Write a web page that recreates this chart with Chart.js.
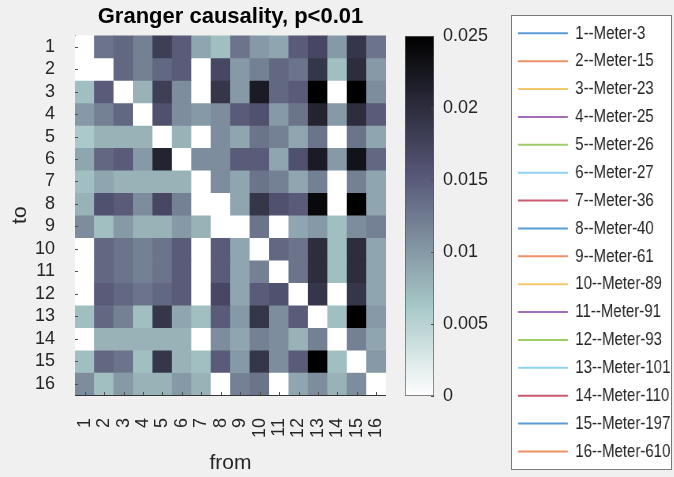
<!DOCTYPE html>
<html>
<head>
<meta charset="utf-8">
<script src="https://cdn.jsdelivr.net/npm/chart.js@4.4.1/dist/chart.umd.min.js"></script>
<style>
  html, body { margin: 0; padding: 0; background: #f0f0f0; }
  #wrap { position: relative; width: 674px; height: 477px; overflow: hidden; }
  #heat { position: absolute; left: 0; top: 0; }
  #cbar { position: absolute; left: 395px; top: 0; }
  #legBox { position: absolute; left: 511px; top: 15px; width: 161px; height: 455px; box-sizing: border-box; border: 1px solid #7a7a7a; background: #fff; }
  #leg { position: absolute; left: 511px; top: 15px; transform: scaleX(0.79); transform-origin: 0 0; }
</style>
</head>
<body>
<div id="wrap">
  <canvas id="heat" width="422" height="477"></canvas>
  <canvas id="cbar" width="115" height="477"></canvas>
  <div id="legBox"></div>
  <canvas id="leg" width="420" height="462"></canvas>
</div>
<script>
var fromLabels = ['1', '2', '3', '4', '5', '6', '7', '8', '9', '10', '11', '12', '13', '14', '15', '16'];
var toLabels = ['1', '2', '3', '4', '5', '6', '7', '8', '9', '10', '11', '12', '13', '14', '15', '16'];
var meterNames = ['1--Meter-3', '2--Meter-15', '3--Meter-23', '4--Meter-25', '5--Meter-26', '6--Meter-27',
    '7--Meter-36', '8--Meter-40', '9--Meter-61', '10--Meter-89', '11--Meter-91', '12--Meter-93',
    '13--Meter-101', '14--Meter-110', '15--Meter-197', '16--Meter-610'];
var cbRange = [0, 0.025];
var cbTicks = [0, 0.005, 0.01, 0.015, 0.02, 0.025];

// rows = "to", columns = "from"
var gc1 = [0, 0.013, 0.014, 0.012, 0.018, 0.015, 0.009, 0.007, 0.013, 0.010, 0.009, 0.015, 0.017, 0.010, 0.019, 0.013];
var gc2 = [0, 0, 0.014, 0.012, 0.014, 0.015, 0, 0.017, 0.010, 0.012, 0.014, 0.013, 0.019, 0.007, 0.020, 0.010];
var gc3 = [0.007, 0.015, 0, 0.008, 0.018, 0.011, 0, 0.019, 0.010, 0.022, 0.014, 0.015, 0.025, 0, 0.025, 0.011];
var gc4 = [0.010, 0.012, 0.014, 0, 0.016, 0.011, 0.010, 0.011, 0.015, 0.016, 0.010, 0.013, 0.021, 0.010, 0.020, 0.015];
var gc5 = [0.006, 0.008, 0.008, 0.008, 0, 0.008, 0, 0.011, 0.009, 0.013, 0.012, 0.009, 0.013, 0, 0.013, 0.009];
var gc6 = [0.009, 0.014, 0.015, 0.010, 0.021, 0, 0.011, 0.011, 0.015, 0.015, 0.009, 0.016, 0.022, 0.010, 0.023, 0.014];
var gc7 = [0.007, 0.009, 0.008, 0.008, 0.008, 0.008, 0, 0.011, 0.009, 0.013, 0.012, 0.009, 0.012, 0, 0.012, 0.009];
var gc8 = [0.008, 0.016, 0.015, 0.011, 0.017, 0.012, 0, 0, 0.009, 0.019, 0.016, 0.015, 0.024, 0, 0.025, 0.009];
var gc9 = [0.011, 0.007, 0.010, 0.008, 0.008, 0.010, 0.008, 0, 0, 0.013, 0, 0.009, 0.010, 0.007, 0.011, 0.012];
var gc10 = [0, 0.014, 0.013, 0.012, 0.013, 0.015, 0, 0.015, 0.009, 0, 0.014, 0.013, 0.020, 0.007, 0.020, 0.009];
var gc11 = [0, 0.014, 0.013, 0.012, 0.013, 0.015, 0, 0.015, 0.009, 0.012, 0, 0.013, 0.020, 0.007, 0.020, 0.009];
var gc12 = [0, 0.015, 0.014, 0.013, 0.014, 0.015, 0, 0.017, 0.009, 0.015, 0.016, 0, 0.019, 0, 0.019, 0.009];
var gc13 = [0.007, 0.014, 0.012, 0.007, 0.019, 0.009, 0.007, 0.015, 0.010, 0.019, 0.011, 0.015, 0, 0.007, 0.025, 0.010];
var gc14 = [0, 0.008, 0.008, 0.008, 0.008, 0.008, 0, 0.011, 0.009, 0.012, 0.011, 0.008, 0.012, 0, 0.012, 0.009];
var gc15 = [0.007, 0.014, 0.013, 0.007, 0.019, 0.008, 0.007, 0.015, 0.010, 0.019, 0.011, 0.015, 0.025, 0.007, 0, 0.010];
var gc16 = [0.011, 0.007, 0.010, 0.008, 0.008, 0.010, 0.008, 0, 0.012, 0.013, 0, 0.009, 0.011, 0.008, 0.011, 0];
var causality = [gc1, gc2, gc3, gc4, gc5, gc6, gc7, gc8, gc9, gc10, gc11, gc12, gc13, gc14, gc15, gc16];

var lineColors = ['#5b9bd5', '#ee9068', '#f3c76c', '#a46cbc', '#9dcc6b', '#8fd2f0', '#c9596f'];

var txt = '#262626';
var sans = '"Liberation Sans", Arial, sans-serif';

// flipped "bone" colormap: 0 -> white, max -> black
function boneColor(v) {
    var x = 1 - Math.min(1, Math.max(0, v / cbRange[1]));
    var hr = Math.min(1, x / 0.375);
    var hg = Math.min(1, Math.max(0, (x - 0.375) / 0.375));
    var hb = Math.min(1, Math.max(0, (x - 0.75) / 0.25));
    var r = Math.round(255 * (7 * x + hb) / 8);
    var g = Math.round(255 * (7 * x + hg) / 8);
    var b = Math.round(255 * (7 * x + hr) / 8);
    return 'rgb(' + r + ',' + g + ',' + b + ')';
}

// small tick marks drawn inside the plot, matlab style
var innerTicks = {
    id: 'innerTicks',
    afterDatasetsDraw: function (chart) {
        var ctx = chart.ctx;
        ctx.save();
        ctx.strokeStyle = '#4d4d4d';
        ctx.lineWidth = 1;
        Object.values(chart.scales).forEach(function (s) {
            if (!s.options.display) return;
            s.ticks.forEach(function (t, i) {
                var p = Math.round(s.getPixelForTick(i)) + 0.5;
                ctx.beginPath();
                if (s.isHorizontal()) {
                    ctx.moveTo(p, s.top); ctx.lineTo(p, s.top - 3);
                } else if (s.position === 'left') {
                    ctx.moveTo(s.right, p); ctx.lineTo(s.right + 3, p);
                } else {
                    ctx.moveTo(s.left, p); ctx.lineTo(s.left - 3, p);
                }
                ctx.stroke();
            });
        });
        ctx.restore();
    }
};

var heatSets = causality.map(function (row, r) {
    return {
        label: toLabels[r],
        data: row.map(function () { return 1; }),
        backgroundColor: row.map(boneColor),
        borderWidth: 0,
        barPercentage: 1,
        categoryPercentage: 1
    };
});

new Chart(document.getElementById('heat'), {
    type: 'bar',
    data: { labels: fromLabels, datasets: heatSets },
    options: {
        responsive: false,
        animation: false,
        layout: { padding: { left: 0, right: 15, top: 0, bottom: 0 } },
        plugins: {
            legend: { display: false },
            tooltip: { enabled: false },
            title: {
                display: true,
                fullSize: false,
                text: 'Granger causality, p<0.01',
                color: '#000',
                font: { family: sans, size: 22, weight: 'bold' },
                padding: { top: 4, bottom: 5 }
            }
        },
        scales: {
            x: {
                stacked: true,
                z: 1,
                grid: { display: false, drawTicks: false },
                border: { display: true, color: '#333', width: 1 },
                ticks: {
                    autoSkip: false, minRotation: 90, maxRotation: 90, padding: 23,
                    color: txt, font: { family: sans, size: 18 }
                },
                title: {
                    display: true, text: 'from', color: txt,
                    font: { family: sans, size: 21 }, padding: { top: 0, bottom: 1 }
                },
                afterFit: function (s) { s.height = 82; }
            },
            y: {
                type: 'linear',
                stacked: true,
                reverse: true,
                min: 0,
                max: toLabels.length,
                z: 1,
                grid: { display: false, drawTicks: false },
                border: { display: true, color: '#333', width: 1 },
                afterBuildTicks: function (s) {
                    s.ticks = toLabels.map(function (l, i) { return { value: i + 0.5 }; });
                },
                ticks: {
                    autoSkip: false, padding: 20, color: txt,
                    font: { family: sans, size: 18 },
                    callback: function (v) { return toLabels[Math.floor(v)]; }
                },
                title: {
                    display: true, text: 'to', color: txt,
                    font: { family: sans, size: 21 }, padding: { top: 8, bottom: 0 }
                },
                afterFit: function (s) { s.width = 75; }
            }
        }
    },
    plugins: [innerTicks]
});

new Chart(document.getElementById('cbar'), {
    type: 'bar',
    data: {
        labels: [''],
        datasets: [{
            data: [cbRange],
            backgroundColor: function (c) {
                var area = c.chart.chartArea;
                if (!area) return null;
                var g = c.chart.ctx.createLinearGradient(0, area.bottom, 0, area.top);
                for (var k = 0; k <= 40; k++) {
                    g.addColorStop(k / 40, boneColor(cbRange[0] + (cbRange[1] - cbRange[0]) * k / 40));
                }
                return g;
            },
            borderColor: '#5a5a5a',
            borderWidth: 1,
            borderSkipped: false,
            barPercentage: 1,
            categoryPercentage: 1
        }]
    },
    options: {
        responsive: false,
        animation: false,
        layout: { padding: { left: 10, top: 36, bottom: 81, right: 0 } },
        plugins: { legend: { display: false }, tooltip: { enabled: false } },
        scales: {
            x: { display: false },
            y: {
                position: 'right',
                min: cbRange[0],
                max: cbRange[1],
                grid: { display: false, drawTicks: false },
                border: { display: false },
                afterBuildTicks: function (s) {
                    s.ticks = cbTicks.map(function (v) { return { value: v }; });
                },
                ticks: {
                    padding: 9, color: txt, font: { family: sans, size: 18 },
                    callback: function (v) { return String(v); }
                },
                afterFit: function (s) { s.width = 76; }
            }
        }
    },
    plugins: [{
        id: 'cbTicks',
        afterDatasetsDraw: function (chart) {
            var s = chart.scales.y, ctx = chart.ctx, area = chart.chartArea;
            ctx.save();
            ctx.strokeStyle = '#4d4d4d';
            s.ticks.forEach(function (t, i) {
                var p = Math.round(s.getPixelForTick(i)) + 0.5;
                ctx.beginPath(); ctx.moveTo(area.right, p); ctx.lineTo(area.right - 3, p); ctx.stroke();
            });
            ctx.restore();
        }
    }]
});

// legend canvas is squeezed horizontally with css to get the narrow look
new Chart(document.getElementById('leg'), {
    type: 'line',
    data: {
        labels: [],
        datasets: meterNames.map(function (n, i) {
            return { label: n, data: [], borderColor: lineColors[i % lineColors.length], backgroundColor: lineColors[i % lineColors.length] };
        })
    },
    options: {
        responsive: false,
        animation: false,
        layout: { padding: 0 },
        scales: { x: { display: false }, y: { display: false } },
        plugins: {
            tooltip: { enabled: false },
            legend: {
                position: 'left',
                align: 'start',
                maxWidth: 210,
                labels: {
                    boxWidth: 63,
                    boxHeight: 2,
                    padding: 8.87,
                    color: txt,
                    font: { family: sans, size: 19 },
                    generateLabels: function (chart) {
                        return chart.data.datasets.map(function (ds, i) {
                            return { text: ds.label, fillStyle: ds.borderColor, strokeStyle: ds.borderColor, lineWidth: 0, hidden: false, datasetIndex: i, fontColor: txt };
                        });
                    }
                }
            }
        }
    }
});
</script>
</body>
</html>
